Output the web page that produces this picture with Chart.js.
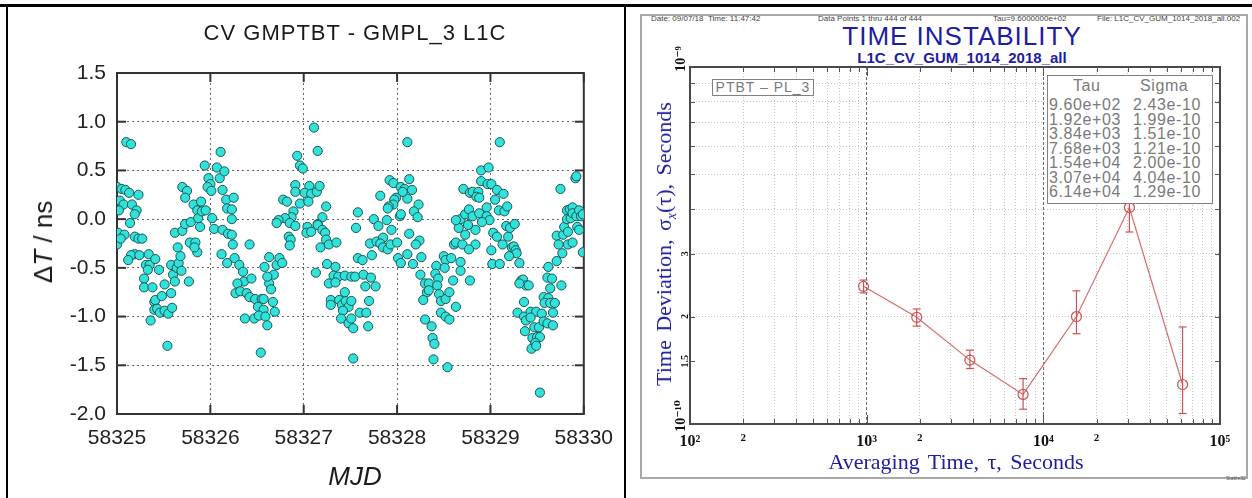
<!DOCTYPE html>
<html>
<head>
<meta charset="utf-8">
<title>CV GMPTBT - GMPL_3 L1C / TIME INSTABILITY</title>
<script src="https://cdn.jsdelivr.net/npm/chart.js@4.4.1/dist/chart.umd.min.js"></script>
<style>
    html, body { margin: 0; padding: 0; background: #fff; }
    #page { position: relative; width: 1252px; height: 498px; overflow: hidden; background: #fff;
            font-family: "Liberation Sans", Arial, sans-serif; }
    .rule { position: absolute; background: #000; }
    canvas { position: absolute; top: 0; }
    .txt { position: absolute; white-space: nowrap; line-height: 1; }
    .center { transform: translate(-50%, -50%); }
    .rot { transform: translate(-50%, -50%) rotate(-90deg); }
    .hdr { font-size: 8px; color: #444; top: 15px; }
    .blue { color: #1c1ca4; }
    #frame { position: absolute; left: 640px; top: 14px; width: 608px; height: 465px;
             border: 2px solid #a9a9a9; box-sizing: border-box; }
    #ptbtBox { position: absolute; left: 712px; top: 79px; width: 102px; height: 17px; box-sizing: border-box;
               border: 1.5px solid #808080; background: #fff; color: #7a7a7a; font-size: 14px;
               letter-spacing: 1px; text-align: center; line-height: 15px; z-index: 3; }
    #tableBox { position: absolute; left: 1047px; top: 75px; width: 166px; height: 129px; box-sizing: border-box;
                border: 1.5px solid #808080; background: #fff; color: #7a7a7a; z-index: 3; }
    #tableBox .cell { position: absolute; font-size: 16px; letter-spacing: 0.6px; white-space: nowrap; line-height: 1; }
</style>
</head>
<body>
<div id="page">
    <!-- 表格边框 -->
    <div class="rule" style="left:0;top:4px;width:1252px;height:3px"></div>
    <div class="rule" style="left:6px;top:4px;width:2px;height:494px"></div>
    <div class="rule" style="left:624px;top:4px;width:2px;height:494px"></div>

    <!-- 左图 -->
    <canvas id="cvChart" width="625" height="498" style="left:0"></canvas>
    <div class="txt center" style="left:355px;top:33px;font-size:22px;letter-spacing:1px;color:#1a1a1a">CV GMPTBT - GMPL_3 L1C</div>
    <div class="txt center" style="left:355px;top:476px;font-size:26px;font-style:italic;color:#1a1a1a">MJD</div>
    <div class="txt rot" style="left:43px;top:242px;font-size:26px;color:#1a1a1a">Δ<i>T</i> / ns</div>

    <!-- 右图 -->
    <div id="frame"></div>
    <div class="txt hdr" style="left:651px">Date: 09/07/18&nbsp;&nbsp;Time: 11:47:42</div>
    <div class="txt hdr" style="left:818px">Data Points 1 thru 444 of 444</div>
    <div class="txt hdr" style="left:993px">Tau=9.6000000e+02</div>
    <div class="txt hdr" style="left:1097px">File: L1C_CV_GUM_1014_2018_all.002</div>
    <div class="txt center blue" style="left:962px;top:36px;font-size:26px;letter-spacing:1px">TIME INSTABILITY</div>
    <div class="txt center blue" style="left:962px;top:57px;font-size:15px;font-weight:bold">L1C_CV_GUM_1014_2018_all</div>
    <div id="ptbtBox">PTBT – PL_3</div>
    <div id="tableBox"></div>
    <canvas id="tdevChart" width="622" height="498" style="left:630px"></canvas>
    <div class="txt rot blue" style="left:664px;top:244px;font-size:22px;word-spacing:3px;font-family:'Liberation Serif',serif">Time Deviation, σ<span style="font-size:14px;font-style:italic;position:relative;top:5px">x</span>(τ), Seconds</div>
    <div class="txt center blue" style="left:956px;top:462px;font-size:22px;word-spacing:3px;font-family:'Liberation Serif',serif">Averaging Time, τ, Seconds</div>
    <div class="txt" style="left:1226px;top:476px;font-size:5px;color:#555">Stable32</div>
</div>

<script>
// ---- 左图：CV GMPTBT - GMPL_3 L1C ----
const cvXTicks = [58325, 58326, 58327, 58328, 58329, 58330];
const cvYTicks = [-2.0, -1.5, -1.0, -0.5, 0.0, 0.5, 1.0, 1.5];

const mjd = [
    58325.10, 58325.15,
    58325.00, 58325.05, 58325.09, 58325.13, 58325.23,
    58325.03, 58325.07, 58325.16, 58325.21, 58325.19, 58325.02,
    58325.14, 58325.01, 58325.08, 58325.00, 58325.04,
    58325.19, 58325.23, 58325.27, 58325.19, 58325.15, 58325.24, 58325.12,
    58325.34, 58325.31, 58325.35, 58325.41, 58325.45, 58325.29, 58325.33, 58325.29, 58325.38,
    58325.40, 58325.41, 58325.40, 58325.43, 58325.46, 58325.51, 58325.55, 58325.59, 58325.48, 58325.51, 58325.58, 58325.36, 58325.54,
    58325.58, 58325.60, 58325.64, 58325.66, 58325.69, 58325.62, 58325.77,
    58325.65, 58325.68, 58325.78, 58325.84, 58325.86, 58325.83, 58325.62, 58325.70, 58325.73, 58325.79,
    58325.70, 58325.75, 58325.73, 58325.82, 58325.86, 58325.90, 58325.87, 58325.91, 58325.89,
    58325.94, 58325.98, 58326.00, 58325.97, 58326.01, 58325.95, 58326.02, 58326.04,
    58326.07, 58326.10, 58326.11, 58326.15, 58326.13, 58326.17, 58326.18, 58326.13, 58326.19, 58326.23,
    58326.12, 58326.18, 58326.24,
    58326.25, 58326.23, 58326.23, 58326.42,
    58326.26, 58326.31, 58326.35, 58326.36, 58326.44, 58326.29,
    58326.27, 58326.32, 58326.39, 58326.42, 58326.48, 58326.55, 58326.57, 58326.51, 58326.57,
    58326.37, 58326.47, 58326.52, 58326.59, 58326.61, 58326.69, 58326.67, 58326.54,
    58326.63, 58326.58, 58326.71, 58326.68, 58326.63, 58326.65, 58326.61, 58326.74, 58326.77,
    58326.93, 58326.96, 58326.99, 58327.11, 58327.15,
    58326.91, 58326.91, 58327.06, 58327.01, 58327.08, 58327.14, 58327.17,
    58326.78, 58326.82, 58326.96, 58326.89, 58326.87, 58326.80, 58326.73, 58326.71, 58326.85, 58326.91, 58327.05,
    58327.24, 58327.20, 58327.15,
    58326.84, 58326.86, 58326.85, 58327.04, 58327.03, 58327.08, 58327.15, 58327.20, 58327.23, 58327.24, 58327.18, 58327.27, 58327.35,
    58327.13, 58327.25, 58327.34, 58327.32, 58327.37, 58327.44, 58327.51, 58327.27, 58327.34,
    58327.29, 58327.29, 58327.38, 58327.41, 58327.45, 58327.48, 58327.44, 58327.42, 58327.40, 58327.48, 58327.51, 58327.53, 58327.53,
    58328.11, 58327.92, 58327.96, 58328.13, 58328.04, 58328.08, 58328.16, 58327.82, 58327.99, 58327.97, 58328.11, 58328.06,
    58327.96, 58327.91, 58327.90, 58328.23, 58328.18, 58328.22, 58328.03, 58328.04,
    58327.58, 58327.56, 58327.75, 58327.80, 58327.89, 58327.94,
    58327.71, 58327.78, 58327.85, 58327.82, 58327.85, 58327.90, 58327.93, 58328.00, 58328.13, 58328.24, 58328.20,
    58327.73, 58327.58, 58327.63, 58328.01, 58328.04, 58328.11, 58328.17, 58328.26,
    58327.55, 58327.64, 58327.66, 58327.72, 58327.77, 58327.51, 58327.70, 58327.60, 58327.67, 58327.69,
    58328.25, 58328.30, 58328.34, 58328.32, 58328.28, 58328.34, 58328.42, 58328.41, 58328.44, 58328.43, 58328.50, 58328.52, 58328.58, 58328.51,
    58328.45, 58328.47, 58328.52, 58328.56, 58328.60, 58328.63, 58328.30, 58328.47, 58328.52, 58328.56,
    58328.37, 58328.38, 58328.40, 58328.39, 58328.54, 58328.68, 58328.68,
    58328.61, 58328.63, 58328.70, 58328.73, 58328.66, 58328.68, 58328.63, 58328.73,
    58328.77, 58328.71, 58328.78, 58328.78,
    58329.10, 58328.90, 58328.98, 58328.90, 58328.97, 58329.01, 58329.07, 58329.14, 58329.05, 58329.09, 58329.15, 58329.18,
    58328.81, 58328.87, 58328.85, 58328.88, 58328.81, 58328.88, 58328.96, 58328.96, 58328.99, 58328.91, 58328.84, 58328.76,
    58329.03, 58329.07, 58329.13, 58329.19, 58329.17, 58329.21, 58329.26, 58329.23, 58329.25, 58329.27, 58329.28, 58329.20,
    58328.84, 58328.77, 58329.01, 58329.02, 58329.10, 58329.31,
    58329.33, 58329.35, 58329.38, 58329.41, 58329.31,
    58329.36, 58329.29, 58329.36, 58329.43, 58329.49, 58329.55, 58329.38, 58329.43, 58329.37, 58329.47,
    58329.52, 58329.45, 58329.50, 58329.53, 58329.48, 58329.44, 58329.49, 58329.57, 58329.61, 58329.67, 58329.53,
    58329.62, 58329.61, 58329.66, 58329.64, 58329.57, 58329.62, 58329.58, 58329.64, 58329.69, 58329.67,
    58329.71, 58329.76, 58329.77, 58329.71, 58329.73, 58329.78, 58329.79, 58329.83, 58329.88, 58329.83,
    58329.82, 58329.85, 58329.88, 58329.82, 58329.86, 58329.88, 58329.92, 58329.95, 58329.97, 58329.99, 58329.93, 58329.95, 58329.99,
    58329.75, 58329.91, 58329.92
];

const deltaT = [
    0.79, 0.77,
    0.33, 0.31, 0.30, 0.27, 0.25,
    0.19, 0.15, 0.15, 0.09, 0.05, 0.09,
    -0.04, -0.14, -0.16, -0.26, -0.20,
    -0.18, -0.20, -0.20, -0.36, -0.37, -0.37, -0.42,
    -0.36, -0.47, -0.47, -0.41, -0.52, -0.61, -0.52, -0.70, -0.70,
    -0.85, -0.83, -0.93, -0.92, -0.96, -0.94, -0.97, -0.91, -0.79, -0.67, -0.76, -1.04, -1.30,
    -0.47, -0.57, -0.50, -0.45, -0.53, -0.64, -0.64,
    -0.29, -0.38, -0.24, -0.24, -0.34, -0.29, -0.14, -0.12, -0.05, -0.03,
    0.33, 0.29, 0.22, 0.15, 0.09, 0.18, 0.01, 0.08, -0.08,
    0.55, 0.42, 0.36, 0.33, 0.29, 0.09, 0.01, -0.10,
    0.53, 0.42, 0.69, 0.49, 0.30, 0.20, 0.11, -0.11, -0.15, 0.00,
    -0.36, -0.45, -0.26,
    0.22, 0.10, -0.16, -0.26,
    -0.40, -0.47, -0.54, -0.64, -0.61, -0.66,
    -0.76, -0.74, -0.76, -0.80, -0.82, -0.82, -0.82, -0.90, -0.93,
    -1.02, -1.02, -0.99, -1.00, -1.09, -0.95, -0.85, -1.37,
    -0.39, -0.49, -0.47, -0.57, -0.66, -0.72, -0.59, -0.40, -0.45,
    0.65, 0.55, 0.52, 0.94, 0.70,
    0.35, 0.28, 0.34, 0.27, 0.26, 0.28, 0.34,
    0.20, 0.18, 0.16, 0.08, 0.02, 0.01, -0.01, -0.04, -0.04, -0.07, 0.18,
    0.13, 0.02, -0.05,
    -0.18, -0.21, -0.27, -0.08, -0.14, -0.13, -0.06, -0.11, -0.14, -0.21, -0.29, -0.26, -0.24,
    -0.55, -0.46, -0.49, -0.58, -0.59, -0.58, -0.59, -0.66, -0.65,
    -0.83, -0.88, -0.83, -0.88, -0.84, -0.90, -0.75, -0.94, -1.02, -1.07, -1.02, -1.12, -1.43,
    0.79, 0.40, 0.37, 0.41, 0.33, 0.31, 0.30, 0.24, 0.22, 0.20, 0.21, 0.28,
    0.15, 0.13, 0.11, 0.15, 0.08, 0.02, 0.03, 0.05,
    0.07, -0.09, 0.00, -0.07, -0.01, -0.11,
    -0.25, -0.23, -0.19, -0.25, -0.29, -0.31, -0.26, -0.24, -0.15, -0.22, -0.26,
    -0.37, -0.40, -0.42, -0.40, -0.45, -0.36, -0.46, -0.39,
    -0.59, -0.57, -0.69, -0.60, -0.69, -0.84, -0.84, -0.96, -0.96, -1.10,
    -0.57, -0.66, -0.66, -0.75, -0.83, -0.73, -0.48, -0.56, -0.61, -0.68, -0.38, -0.42, -0.40, -0.50,
    -0.77, -0.84, -0.82, -0.75, -0.63, -0.90, -1.03, -0.96, -1.00, -1.03,
    -1.10, -1.22, -1.28, -1.44, -1.52, -0.44, -0.53,
    -0.26, -0.24, -0.26, -0.16, -0.09, 0.00, -0.01, 0.05,
    0.10, 0.31, 0.27, -0.63,
    0.79, 0.50, 0.53, 0.39, 0.36, 0.36, 0.30, 0.26, 0.20, 0.09, 0.08, 0.13,
    0.28, 0.28, 0.23, 0.22, 0.03, 0.06, 0.12, 0.03, -0.01, -0.03, -0.11, -0.06,
    -0.14, -0.18, -0.26, -0.18, -0.07, -0.09, -0.05, -0.29, -0.28, -0.32, -0.35, -0.38,
    -0.26, -0.31, -0.32, -0.46, -0.46, -0.45,
    -0.63, -0.62, -0.68, -0.68, -0.66,
    -0.85, -0.96, -1.00, -0.95, -0.95, -0.97, -1.04, -1.01, -1.15, -1.11,
    -1.11, -1.22, -1.21, -1.21, -1.27, -1.33, -1.30, -1.05, -1.07, -1.09, -1.78,
    -0.49, -0.60, -0.61, -0.71, -0.80, -0.81, -0.86, -0.86, -0.86, -0.96,
    -0.43, -0.68, -0.35, -0.17, -0.26, -0.16, -0.08, -0.26, -0.24, -0.13,
    0.09, 0.10, 0.12, 0.00, 0.01, 0.06, 0.03, 0.09, 0.03, 0.05, -0.08, -0.11, -0.34,
    0.31, 0.42, 0.44
];

// ---- 右图：TIME INSTABILITY ----
const tau = [960, 1920, 3840, 7680, 15400, 30700, 61400];
const sigma = [2.43e-10, 1.99e-10, 1.51e-10, 1.21e-10, 2.00e-10, 4.04e-10, 1.29e-10];
const sigmaLo = [2.33e-10, 1.88e-10, 1.43e-10, 1.10e-10, 1.79e-10, 3.45e-10, 1.07e-10];
const sigmaHi = [2.53e-10, 2.10e-10, 1.61e-10, 1.34e-10, 2.36e-10, 4.15e-10, 1.87e-10];

const tauGrid = [100, 200, 300, 400, 500, 600, 700, 800, 900,
                 1000, 2000, 3000, 4000, 5000, 6000, 7000, 8000, 9000,
                 10000, 20000, 30000, 40000, 50000, 60000, 70000, 80000, 90000, 100000];
const sigmaGrid = [1e-10, 1.5e-10, 2e-10, 3e-10, 4e-10, 5e-10, 6e-10, 7e-10, 8e-10, 9e-10, 1e-9];
const tauTickLabels = [[100, "10²"], [200, "2"], [1000, "10³"], [2000, "2"], [10000, "10⁴"], [20000, "2"], [100000, "10⁵"]];
const sigmaTickLabels = [[1e-10, "10⁻¹⁰"], [1.5e-10, "1.5"], [2e-10, "2"], [3e-10, "3"], [1e-9, "10⁻⁹"]];

const SERIF = "'Liberation Serif', 'DejaVu Serif', serif";
Chart.defaults.font.family = "'Liberation Sans', Arial, sans-serif";

// 工具函数
function forceTicks(values) {
    return scale => { scale.ticks = values.map(v => ({ value: v })); };
}

function labelFor(pairs, v) {
    const hit = pairs.find(p => Math.abs(p[0] - v) / p[0] < 1e-6);
    return hit ? hit[1] : "";
}

function isDecade(v) {
    const l = Math.log10(v);
    return Math.abs(l - Math.round(l)) < 1e-6;
}

function fmtExp(v) {
    const e = Math.floor(Math.log10(v) + 1e-9);
    const m = v / Math.pow(10, e);
    return m.toFixed(2) + "e" + (e < 0 ? "-" : "+") + String(Math.abs(e)).padStart(2, "0");
}

function strokeLine(ctx, x1, y1, x2, y2) {
    ctx.beginPath();
    ctx.moveTo(x1, y1);
    ctx.lineTo(x2, y2);
    ctx.stroke();
}

// 左图边框 + 内向刻度
const cvFrame = {
    id: "cvFrame",
    beforeDatasetsDraw(chart) {
        const { ctx, chartArea: a, scales: { x, y } } = chart;
        ctx.save();
        ctx.strokeStyle = "#333";
        ctx.lineWidth = 2;
        cvYTicks.forEach(v => {
            const py = y.getPixelForValue(v);
            strokeLine(ctx, a.left, py, a.left + 9, py);
            strokeLine(ctx, a.right, py, a.right - 9, py);
        });
        cvXTicks.forEach(v => {
            const px = x.getPixelForValue(v);
            strokeLine(ctx, px, a.top, px, a.top + 9);
            strokeLine(ctx, px, a.bottom, px, a.bottom - 9);
        });
        ctx.strokeRect(a.left, a.top, a.right - a.left, a.bottom - a.top);
        ctx.restore();
    }
};

const cvGrid = {
    color: "#666",
    lineWidth: 1,
    drawTicks: false
};

new Chart(document.getElementById("cvChart"), {
    type: "scatter",
    data: {
        datasets: [{
            data: mjd.map((m, i) => ({ x: m, y: deltaT[i] })),
            pointRadius: 4.6,
            pointBackgroundColor: "#30e2da",
            pointBorderColor: "#1b5656",
            pointBorderWidth: 1
        }]
    },
    options: {
        responsive: false,
        animation: false,
        layout: { padding: { left: 0, right: 32, top: 73, bottom: 0 } },
        plugins: { legend: { display: false }, tooltip: { enabled: false } },
        scales: {
            x: {
                type: "linear",
                min: 58325,
                max: 58330,
                afterBuildTicks: forceTicks(cvXTicks),
                afterFit: s => { s.height = 84; },
                grid: cvGrid,
                border: { display: false, dash: [2, 3] },
                ticks: {
                    padding: 12,
                    color: "#222",
                    maxRotation: 0,
                    font: { size: 21 },
                    callback: v => String(v)
                }
            },
            y: {
                min: -2,
                max: 1.5,
                afterBuildTicks: forceTicks(cvYTicks),
                afterFit: s => { s.width = 117; },
                grid: cvGrid,
                border: { display: false, dash: [2, 3] },
                ticks: {
                    padding: 11,
                    color: "#222",
                    font: { size: 21 },
                    callback: v => v.toFixed(1)
                }
            }
        }
    },
    plugins: [cvFrame]
});

// 右图：误差棒、边框、内向刻度、旋转的 y 轴标签
const RED = "#cf5252";
const tdevDecor = {
    id: "tdevDecor",
    beforeDatasetsDraw(chart) {
        const { ctx, chartArea: a, scales: { x, y } } = chart;
        ctx.save();
        ctx.strokeStyle = "#555";
        ctx.lineWidth = 1;
        tauGrid.forEach(v => {
            const px = Math.round(x.getPixelForValue(v)) + 0.5;
            const len = isDecade(v) ? 9 : 5;
            strokeLine(ctx, px, a.bottom, px, a.bottom - len);
            strokeLine(ctx, px, a.top, px, a.top + len);
        });
        sigmaGrid.forEach(v => {
            const py = Math.round(y.getPixelForValue(v)) + 0.5;
            const len = isDecade(v) ? 9 : 5;
            strokeLine(ctx, a.left, py, a.left + len, py);
            strokeLine(ctx, a.right, py, a.right - len, py);
        });
        ctx.strokeStyle = "#4a4a4a";
        ctx.lineWidth = 2;
        ctx.strokeRect(a.left, a.top, a.right - a.left, a.bottom - a.top);
        ctx.restore();
    },
    afterDatasetsDraw(chart) {
        const { ctx, scales: { x, y } } = chart;
        ctx.save();
        ctx.strokeStyle = RED;
        ctx.lineWidth = 1.2;
        tau.forEach((t, i) => {
            const px = x.getPixelForValue(t);
            const yTop = y.getPixelForValue(sigmaHi[i]);
            const yBot = y.getPixelForValue(sigmaLo[i]);
            strokeLine(ctx, px, yTop, px, yBot);
            strokeLine(ctx, px - 4, yTop, px + 4, yTop);
            strokeLine(ctx, px - 4, yBot, px + 4, yBot);
        });
        ctx.restore();
    },
    afterDraw(chart) {
        const { ctx, chartArea: a, scales: { y } } = chart;
        ctx.save();
        ctx.fillStyle = "#111";
        ctx.textAlign = "center";
        ctx.textBaseline = "alphabetic";
        sigmaTickLabels.forEach(([v, text]) => {
            const decade = isDecade(v);
            const py = y.getPixelForValue(v) - (decade ? 8 : 0);
            ctx.save();
            ctx.translate(a.left - (decade ? 5 : 2), py);
            ctx.rotate(-Math.PI / 2);
            ctx.font = "bold " + (decade ? 14 : 10) + "px " + SERIF;
            ctx.fillText(text, 0, 0);
            ctx.restore();
        });
        ctx.restore();
    }
};

new Chart(document.getElementById("tdevChart"), {
    type: "line",
    data: {
        datasets: [{
            data: tau.map((t, i) => ({ x: t, y: sigma[i] })),
            borderColor: "#d86a6a",
            borderWidth: 1.2,
            tension: 0,
            fill: false,
            pointRadius: 5,
            pointStyle: "circle",
            pointBackgroundColor: "rgba(0,0,0,0)",
            pointBorderColor: RED,
            pointBorderWidth: 1.2
        }]
    },
    options: {
        responsive: false,
        animation: false,
        layout: { padding: { left: 0, right: 32, top: 67, bottom: 34 } },
        plugins: { legend: { display: false }, tooltip: { enabled: false } },
        scales: {
            x: {
                type: "logarithmic",
                min: 100,
                max: 100000,
                afterBuildTicks: forceTicks(tauGrid),
                afterFit: s => { s.height = 40; },
                grid: {
                    drawTicks: false,
                    lineWidth: 1,
                    color: c => c.tick && isDecade(c.tick.value) ? "#6a6a6a" : "#c4c4c4"
                },
                border: {
                    display: false,
                    dash: c => c.tick && isDecade(c.tick.value) ? [3, 2] : [1, 2]
                },
                ticks: {
                    autoSkip: false,
                    maxRotation: 0,
                    padding: 8,
                    color: "#111",
                    font: c => ({
                        family: SERIF,
                        weight: "bold",
                        size: c.tick && isDecade(c.tick.value) ? 16 : 11
                    }),
                    callback: v => labelFor(tauTickLabels, v)
                }
            },
            y: {
                type: "logarithmic",
                min: 1e-10,
                max: 1e-9,
                afterBuildTicks: forceTicks(sigmaGrid),
                afterFit: s => { s.width = 60; },
                grid: {
                    drawTicks: false,
                    lineWidth: 1,
                    color: c => c.tick && Math.abs(c.tick.value - 1.5e-10) < 1e-14 ? "rgba(0,0,0,0)" : "#c4c4c4"
                },
                border: { display: false, dash: [1, 2] },
                ticks: { display: false }
            }
        }
    },
    plugins: [tdevDecor]
});

// 右图数据表 (Tau / Sigma)
const tableBox = document.getElementById("tableBox");
function addCell(text, left, top) {
    const d = document.createElement("div");
    d.className = "cell";
    d.textContent = text;
    d.style.left = left + "px";
    d.style.top = top + "px";
    tableBox.appendChild(d);
    return d;
}
addCell("Tau", 25, 2);
addCell("Sigma", 92, 2);
tau.forEach((t, i) => {
    const top = 21 + i * 14.5;
    addCell(fmtExp(t), 1, top);
    addCell(fmtExp(sigma[i]), 85, top);
});
</script>
</body>
</html>
